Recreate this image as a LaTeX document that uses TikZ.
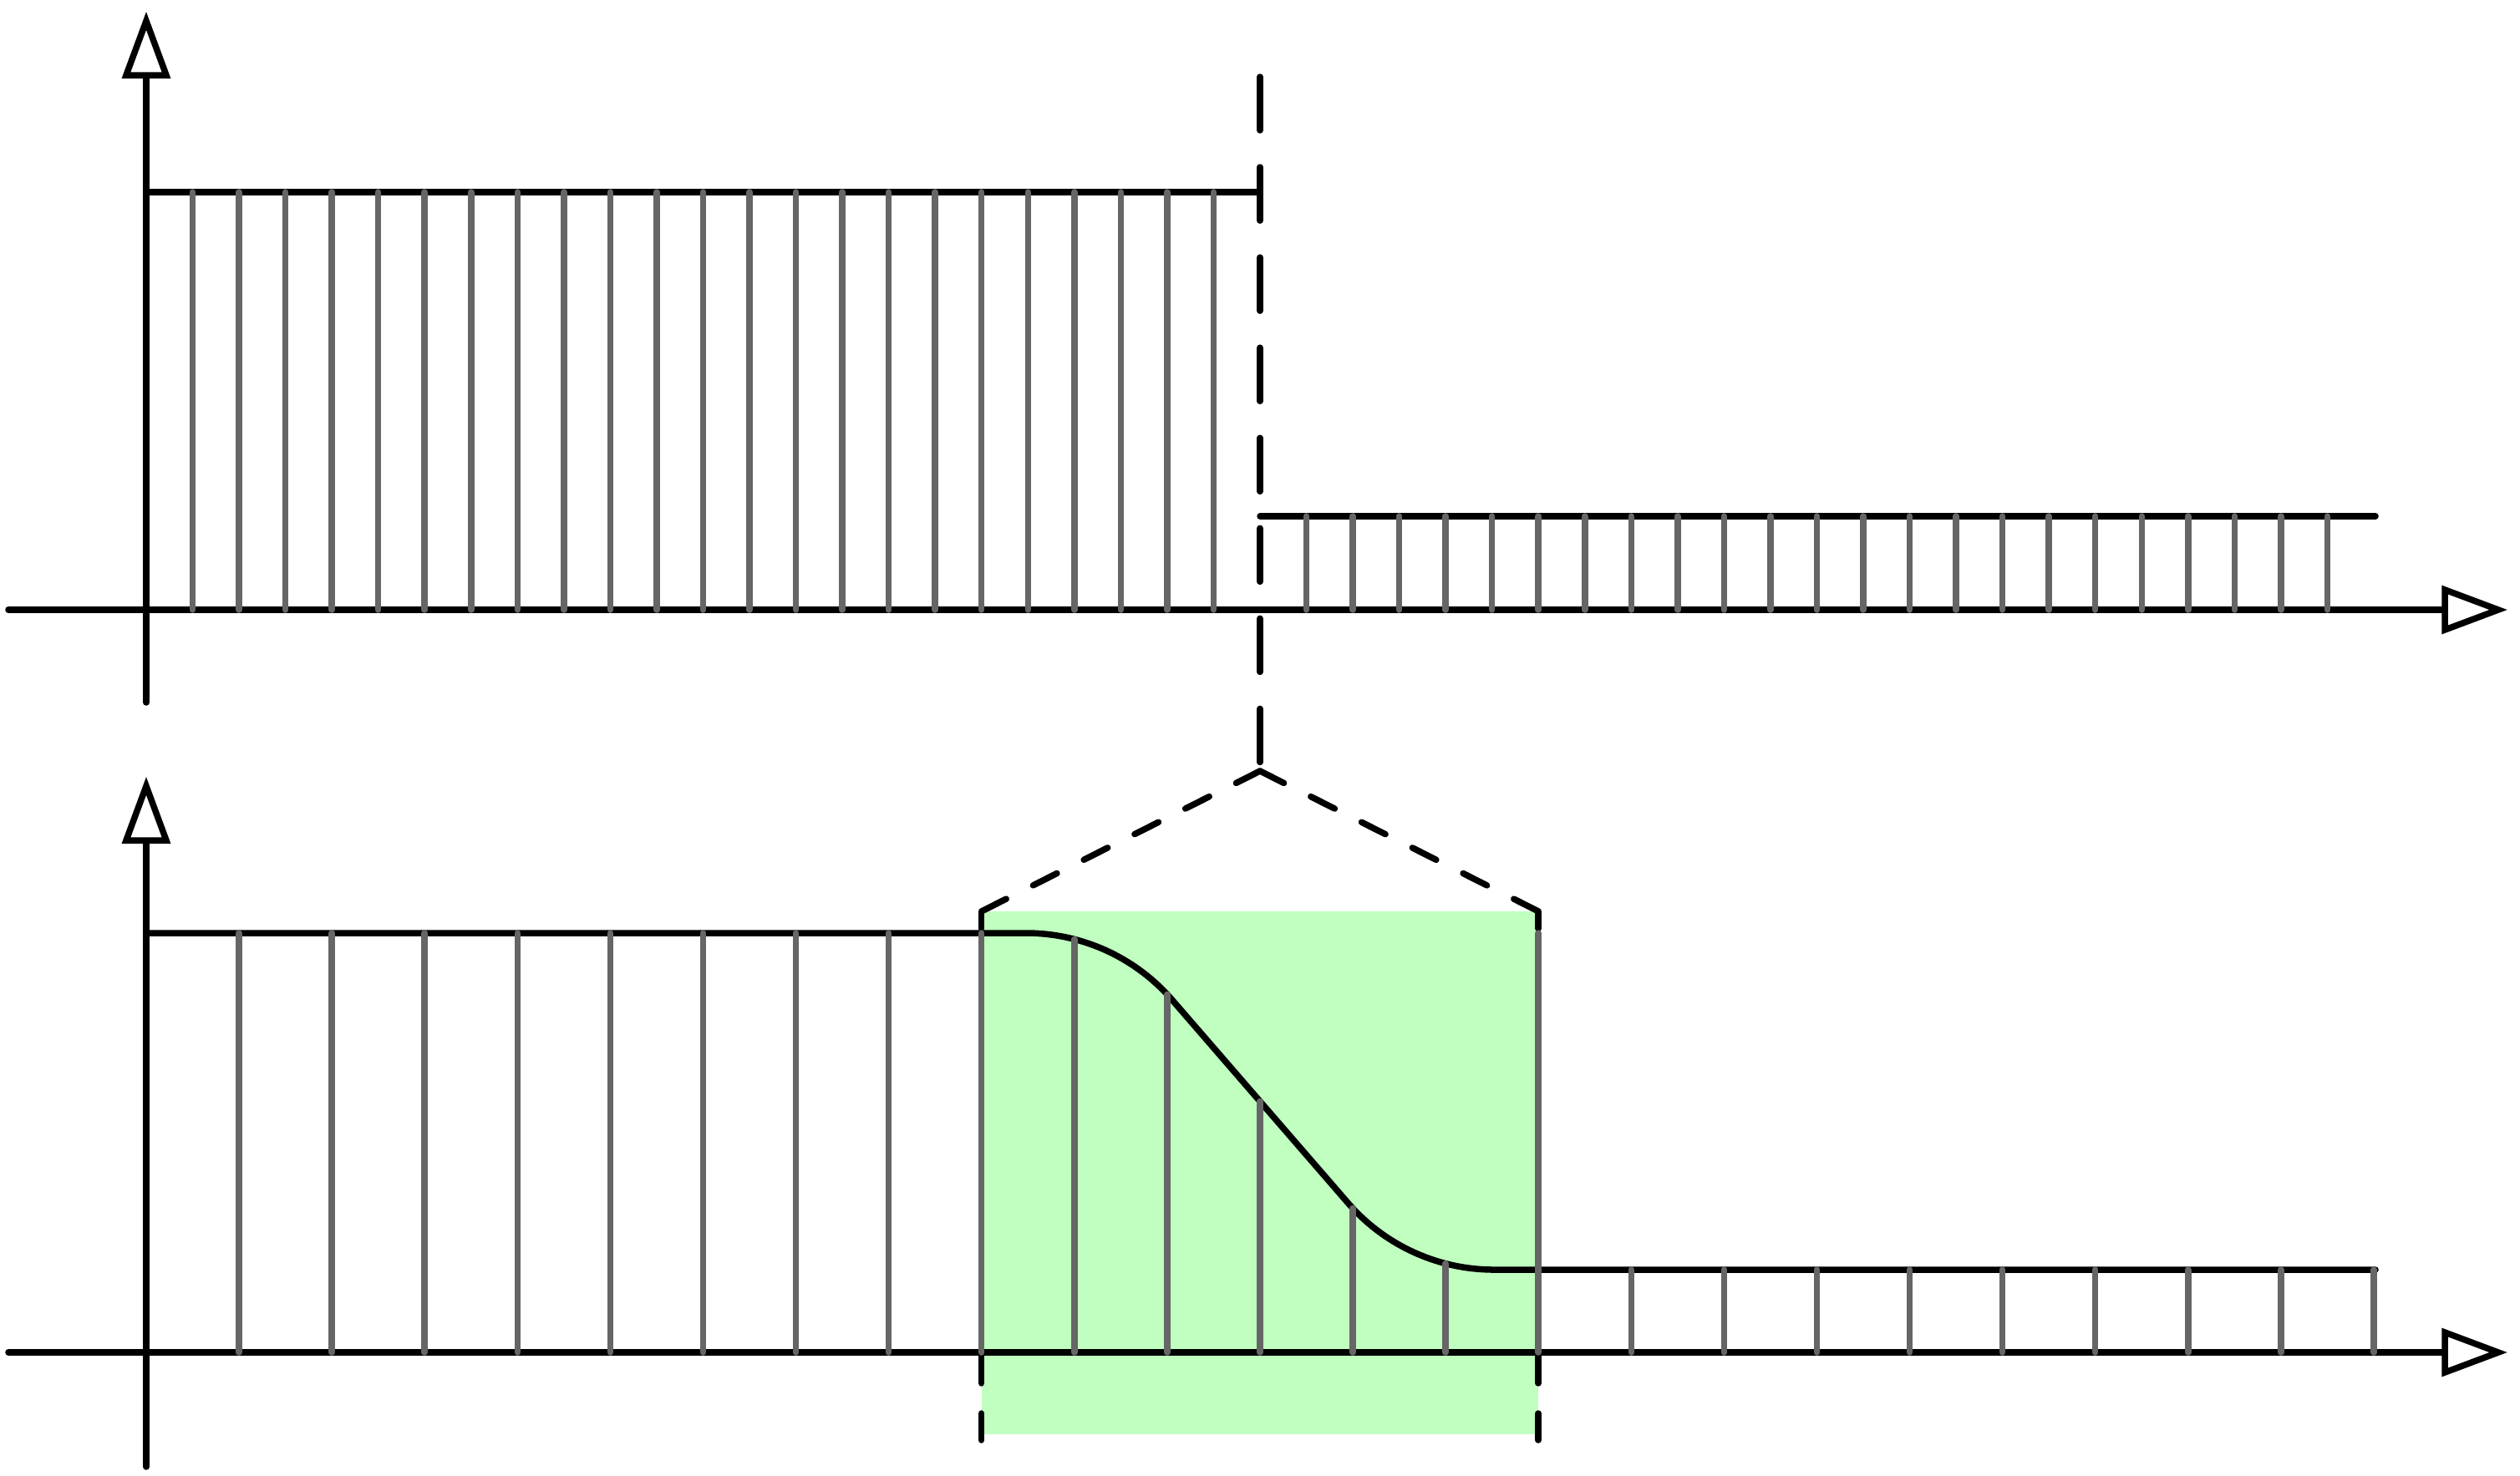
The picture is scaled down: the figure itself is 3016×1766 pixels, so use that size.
\documentclass[tikz,border=0pt]{standalone}
\definecolor{stemgray}{HTML}{666666}
\definecolor{boxgreen}{HTML}{C0FFC0}
\begin{document}
\begin{tikzpicture}[x=0.01cm,y=-0.01cm,
  blk/.style={line width=0.075cm, line cap=round, black},
  stemline/.style={line width=0.075cm, line cap=round, stemgray},
  longdash/.style={blk, dash pattern=on 0.64cm off 0.44cm},
  shortdash/.style={blk, dash pattern=on 0.32cm off 0.36cm},
  tiphead/.style={line width=0.075cm, line join=miter, fill=white, draw=black}]
\useasboundingbox (0,0) rectangle (3016,1766);
% green box
\fill[boxgreen] (1174.7,1091) rectangle (1841.2,1717);
% upper axes
\draw[blk] (175,841) -- (175,90);
\draw[tiphead] (151,90) -- (175,25) -- (199,90) -- cycle;
\draw[blk] (10,730) -- (2926,730);
\draw[tiphead] (2926,706) -- (2990,730) -- (2926,754) -- cycle;
% upper levels
\draw[blk] (175,230) -- (1508,230);
\draw[blk] (1508,618) -- (2843,618);
% lower axes
\draw[blk] (175,1756) -- (175,1006);
\draw[tiphead] (151,1006) -- (175,941) -- (199,1006) -- cycle;
\draw[blk] (10,1619) -- (2926,1619);
\draw[tiphead] (2926,1595) -- (2990,1619) -- (2926,1643) -- cycle;
% smoothed curve (circular arcs joined by a straight segment)
\draw[blk] (175,1117) -- (1228,1117)
  .. controls (1295.1,1117) and (1359.1,1146.3) .. (1402.9,1197.1)
  -- (1613.1,1439.9)
  .. controls (1656.9,1490.7) and (1720.9,1520) .. (1788,1520)
  -- (2843,1520);
% dashed guides
\draw[longdash] (1508,92) -- (1508,923);
\draw[shortdash] (1508,923) -- (1174.7,1091);
\draw[shortdash] (1508,923) -- (1841.2,1091);
\draw[shortdash] (1174.7,1724) -- (1174.7,1091);
\draw[shortdash] (1841.2,1724) -- (1841.2,1091);
% upper stems
\foreach \k in {1,...,23} \draw[stemline] ({175+\k*55.54},730) -- ({175+\k*55.54},230);
\foreach \k in {25,...,47} \draw[stemline] ({175+\k*55.54},730) -- ({175+\k*55.54},618);
% lower stems
\foreach \k/\h in {1/1117,2/1117,3/1117,4/1117,5/1117,6/1117,7/1117,8/1117,9/1117,10/1124.4,11/1190.5,12/1318.5,13/1446.5,14/1512.6,15/1117,16/1520,17/1520,18/1520,19/1520,20/1520,21/1520,22/1520,23/1520,24/1520}
  \draw[stemline] ({175+\k*111.08},1619) -- ({175+\k*111.08},\h);
\end{tikzpicture}
\end{document}
